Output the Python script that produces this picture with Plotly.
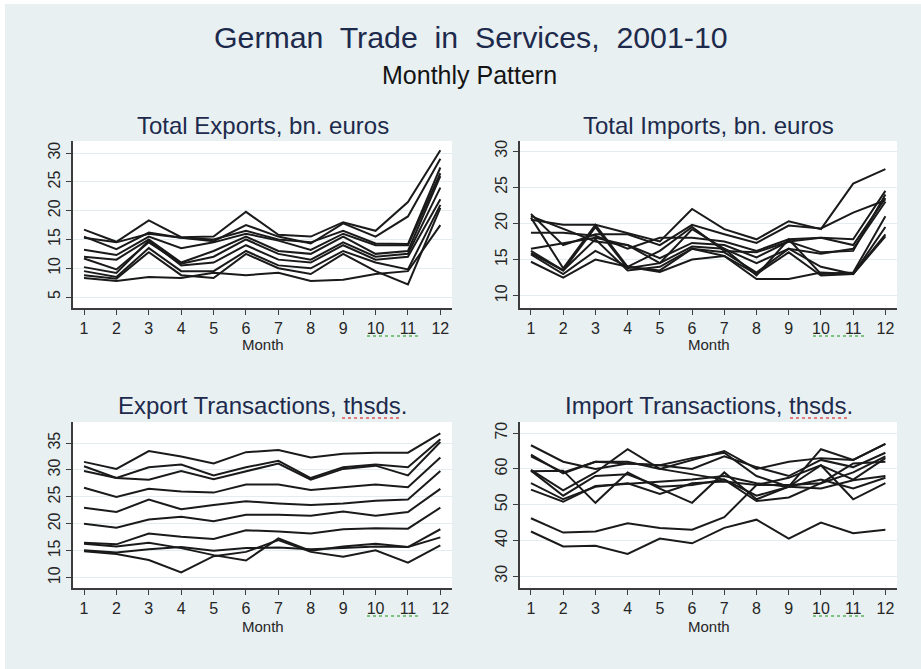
import plotly.graph_objects as go

# ---------------- data ----------------
months = [1, 2, 3, 4, 5, 6, 7, 8, 9, 10, 11, 12]
month_labels = ["1", "2", "3", "4", "5", "6", "7", "8", "9", "10", "11", "12"]
years = ["2001", "2002", "2003", "2004", "2005", "2006", "2007", "2008", "2009", "2010"]

total_exports = [
    [16.7, 14.6, 18.3, 15.4, 15.5, 19.8, 15.8, 15.5, 18.0, 16.5, 21.5, 30.5],
    [15.5, 13.3, 16.2, 15.3, 14.7, 17.5, 15.5, 14.3, 17.8, 15.5, 19.0, 29.0],
    [15.3, 14.5, 16.0, 15.3, 15.0, 16.5, 15.0, 14.5, 16.5, 14.3, 14.2, 27.5],
    [13.2, 12.3, 15.5, 13.5, 14.5, 16.0, 14.8, 13.2, 16.0, 14.0, 14.0, 26.5],
    [12.0, 11.5, 15.0, 11.0, 13.0, 15.5, 13.0, 12.5, 15.5, 12.5, 13.0, 26.0],
    [11.7, 9.8, 14.5, 10.8, 12.0, 15.0, 12.5, 11.5, 14.5, 12.0, 12.5, 24.0],
    [10.2, 9.2, 14.8, 10.5, 11.0, 14.0, 11.5, 11.0, 14.0, 11.5, 12.0, 22.0],
    [9.5, 8.5, 13.5, 9.5, 9.5, 13.0, 10.5, 10.0, 13.0, 11.0, 9.8, 21.0],
    [8.8, 8.2, 12.8, 8.8, 8.3, 12.5, 10.0, 9.0, 12.5, 9.5, 7.2, 20.5],
    [8.3, 7.8, 8.5, 8.3, 9.2, 8.8, 9.2, 7.8, 8.0, 9.0, 9.5, 17.5],
]

total_imports = [
    [20.5, 19.8, 19.8, 18.7, 17.5, 22.0, 19.2, 17.8, 20.3, 19.2, 25.5, 27.5],
    [21.3, 17.0, 18.5, 18.5, 17.0, 19.8, 18.5, 17.3, 19.7, 19.3, 21.5, 23.2],
    [18.7, 18.7, 18.3, 16.5, 18.0, 18.0, 17.5, 16.2, 17.8, 18.0, 17.8, 24.5],
    [20.8, 13.8, 19.8, 14.0, 16.2, 19.5, 16.2, 16.0, 17.5, 18.0, 17.0, 23.5],
    [21.0, 19.3, 17.5, 17.0, 15.2, 17.3, 17.0, 15.3, 17.5, 16.0, 16.2, 24.0],
    [16.5, 17.3, 18.0, 17.0, 14.5, 16.8, 16.5, 14.5, 16.5, 15.8, 16.5, 23.0],
    [16.2, 13.5, 19.5, 13.8, 14.5, 19.2, 16.5, 12.8, 17.8, 13.0, 13.2, 21.0],
    [15.9, 13.5, 17.8, 13.5, 14.0, 16.5, 16.0, 13.2, 16.5, 14.0, 13.0, 19.5],
    [15.7, 13.0, 16.2, 14.0, 13.5, 16.5, 15.5, 12.3, 12.3, 13.2, 13.0, 18.5],
    [14.7, 12.5, 15.0, 14.0, 13.3, 15.0, 15.5, 13.0, 16.0, 12.8, 13.0, 18.2],
]

export_transactions = [
    [31.5, 30.2, 33.5, 32.5, 31.2, 33.3, 33.7, 32.3, 33.0, 33.2, 33.2, 36.8],
    [30.7, 28.5, 30.5, 31.0, 29.0, 30.5, 31.7, 28.5, 30.5, 31.0, 30.5, 35.7],
    [29.8, 28.5, 28.2, 29.8, 28.3, 29.8, 31.2, 28.2, 30.2, 30.8, 29.0, 35.2],
    [26.7, 25.0, 26.5, 26.0, 25.8, 27.3, 27.3, 26.3, 26.8, 27.3, 26.8, 32.3],
    [23.0, 22.2, 24.5, 22.7, 23.5, 24.2, 23.8, 23.5, 23.8, 24.3, 24.5, 29.8],
    [20.0, 19.3, 20.8, 21.3, 20.5, 21.7, 21.7, 21.5, 22.3, 21.5, 22.2, 26.5],
    [16.5, 16.2, 18.2, 17.6, 17.2, 18.8, 18.6, 18.2, 19.0, 19.2, 19.1, 23.0],
    [16.3, 15.8, 16.5, 15.5, 14.2, 13.2, 17.3, 15.0, 15.8, 16.3, 15.7, 19.0],
    [15.1, 14.7, 15.3, 15.7, 15.0, 15.5, 15.6, 15.3, 15.5, 15.8, 15.7, 17.5],
    [14.9, 14.4, 13.3, 11.0, 14.0, 14.8, 17.0, 14.8, 13.9, 15.1, 12.8, 16.0],
]

import_transactions = [
    [66.6, 62.0, 60.0, 61.5, 61.0, 60.0, 63.5, 60.5, 58.0, 62.5, 60.5, 64.5],
    [64.0, 58.7, 62.0, 62.0, 60.0, 62.5, 65.0, 60.0, 62.0, 63.0, 62.5, 67.0],
    [63.5, 59.0, 62.0, 61.5, 61.0, 63.0, 64.5, 58.0, 55.0, 61.0, 57.0, 63.0],
    [59.7, 54.0, 59.0, 65.5, 60.0, 58.5, 57.0, 51.0, 52.0, 56.0, 59.0, 63.5],
    [59.3, 59.5, 50.5, 59.0, 54.5, 50.5, 59.0, 51.5, 55.0, 65.5, 62.5, 67.0],
    [56.0, 51.5, 55.0, 56.0, 53.0, 56.0, 56.5, 55.5, 57.5, 61.0, 51.5, 56.0],
    [54.2, 50.8, 55.2, 55.8, 56.5, 57.0, 58.0, 56.0, 55.0, 54.5, 56.8, 58.0],
    [59.5, 52.5, 58.0, 58.5, 55.0, 55.5, 57.0, 52.5, 55.0, 57.0, 54.5, 57.5],
    [46.2, 42.2, 42.5, 44.8, 43.5, 43.0, 46.5, 55.5, 55.5, 56.0, 61.5, 62.0],
    [42.5, 38.3, 38.5, 36.2, 40.5, 39.2, 43.5, 45.8, 40.5, 45.0, 42.0, 43.0],
]

panel_titles = [
    "Total Exports, bn. euros",
    "Total Imports, bn. euros",
    "Export Transactions, thsds.",
    "Import Transactions, thsds.",
]
y_ticks = [
    [5, 10, 15, 20, 25, 30],
    [10, 15, 20, 25, 30],
    [10, 15, 20, 25, 30, 35],
    [30, 40, 50, 60, 70],
]
y_ranges = [[3.1, 32.1], [8.3, 31.4], [8.1, 38.9], [26.7, 73.1]]
x_label = "Month"
main_title = "German\u00a0 Trade\u00a0 in\u00a0 Services,\u00a0 2001-10"
sub_title = "Monthly Pattern"

# ---------------- figure ----------------
W, H = 921, 669
BG = "#e8f0f2"
NAVY = "#1d2a4c"
FONT = "Liberation Sans, Arial, sans-serif"

fig = go.Figure()
panels = [total_exports, total_imports, export_transactions, import_transactions]
for p, series in enumerate(panels):
    suffix = "" if p == 0 else str(p + 1)
    for yr, vals in zip(years, series):
        fig.add_trace(go.Scatter(
            x=months, y=vals, mode="lines", name=yr,
            line=dict(color="#1a1a1a", width=2.0),
            xaxis="x" + suffix, yaxis="y" + suffix, showlegend=False,
            hoverinfo="x+y+name",
        ))

# pixel layout of plot areas
x_doms = [[73, 452], [520, 897], [73, 452], [520, 897]]
y_doms = [[141, 308], [141, 308], [422, 588], [422, 588]]

layout = dict(
    width=W, height=H,
    paper_bgcolor=BG, plot_bgcolor="white",
    margin=dict(l=0, r=0, t=0, b=0),
    font=dict(family=FONT, color="#333333"),
    showlegend=False,
)
for p in range(4):
    suffix = "" if p == 0 else str(p + 1)
    xd = [x_doms[p][0] / W, x_doms[p][1] / W]
    yd = [1 - y_doms[p][1] / H, 1 - y_doms[p][0] / H]
    layout["xaxis" + suffix] = dict(
        domain=xd, anchor="y" + suffix, range=[0.66, 12.36],
        tickmode="array", tickvals=months, ticktext=month_labels,
        showgrid=False, zeroline=False,
        showline=True, linecolor="#3c3c3c", linewidth=1.5,
        ticks="outside", ticklen=5, tickwidth=1.3, tickcolor="#3c3c3c",
        tickfont=dict(size=16, color="#262626", family=FONT),
    )
    layout["yaxis" + suffix] = dict(
        domain=yd, anchor="x" + suffix, range=y_ranges[p],
        tickmode="array", tickvals=y_ticks[p],
        showgrid=True, gridcolor="#e3edf0", gridwidth=1.2, zeroline=False,
        showline=True, linecolor="#3c3c3c", linewidth=1.5,
        ticks="outside", ticklen=5, tickwidth=1.3, tickcolor="#3c3c3c",
        tickangle=-90,
        tickfont=dict(size=16, color="#262626", family=FONT),
    )
fig.update_layout(**layout)

annotations = [
    dict(text=main_title, x=471 / W, y=1 - 38 / H, font=dict(size=30.3, color=NAVY)),
    dict(text=sub_title, x=469 / W, y=1 - 75 / H, font=dict(size=25, color="#141414")),
]
title_y = [125, 125, 405, 405]
month_y = [344, 344, 626, 626]
for p in range(4):
    cx = (x_doms[p][0] + x_doms[p][1]) / 2 / W
    annotations.append(dict(text=panel_titles[p], x=cx, y=1 - title_y[p] / H,
                            font=dict(size=24, color=NAVY)))
    annotations.append(dict(text=x_label, x=cx, y=1 - month_y[p] / H,
                            font=dict(size=15, color="#262626")))
for a in annotations:
    a.update(xref="paper", yref="paper", xanchor="center", yanchor="middle",
             showarrow=False, font=dict(family=FONT, **a["font"]))
fig.update_layout(annotations=annotations)

# spell-check underlines and white frame edges (decorative)
shapes = []
green = [(367, 418, 336), (813, 865, 336), (367, 418, 616), (813, 865, 616)]
for x0, x1, yy in green:
    shapes.append(dict(type="line", xref="paper", yref="paper",
                       x0=x0 / W, x1=x1 / W, y0=1 - yy / H, y1=1 - yy / H,
                       line=dict(color="#59b35a", width=1.5, dash="dot")))
red = [(342, 400, 418), (790, 848, 418)]
for x0, x1, yy in red:
    shapes.append(dict(type="line", xref="paper", yref="paper",
                       x0=x0 / W, x1=x1 / W, y0=1 - yy / H, y1=1 - yy / H,
                       line=dict(color="#e05555", width=1.3, dash="dot")))
shapes.append(dict(type="rect", xref="paper", yref="paper", x0=0, x1=5 / W, y0=0, y1=1,
                   fillcolor="white", line=dict(width=0), layer="below"))
shapes.append(dict(type="rect", xref="paper", yref="paper", x0=0, x1=1, y0=1 - 4 / H, y1=1,
                   fillcolor="white", line=dict(width=0), layer="below"))
fig.update_layout(shapes=shapes)

fig.write_html(
    "out.html",
    config={"displayModeBar": False},
    post_script=(
        "document.body.style.margin='0';document.body.style.overflow='hidden';"
        "document.documentElement.style.background='" + BG + "';"
        "document.body.style.background='" + BG + "';"
    ),
)
